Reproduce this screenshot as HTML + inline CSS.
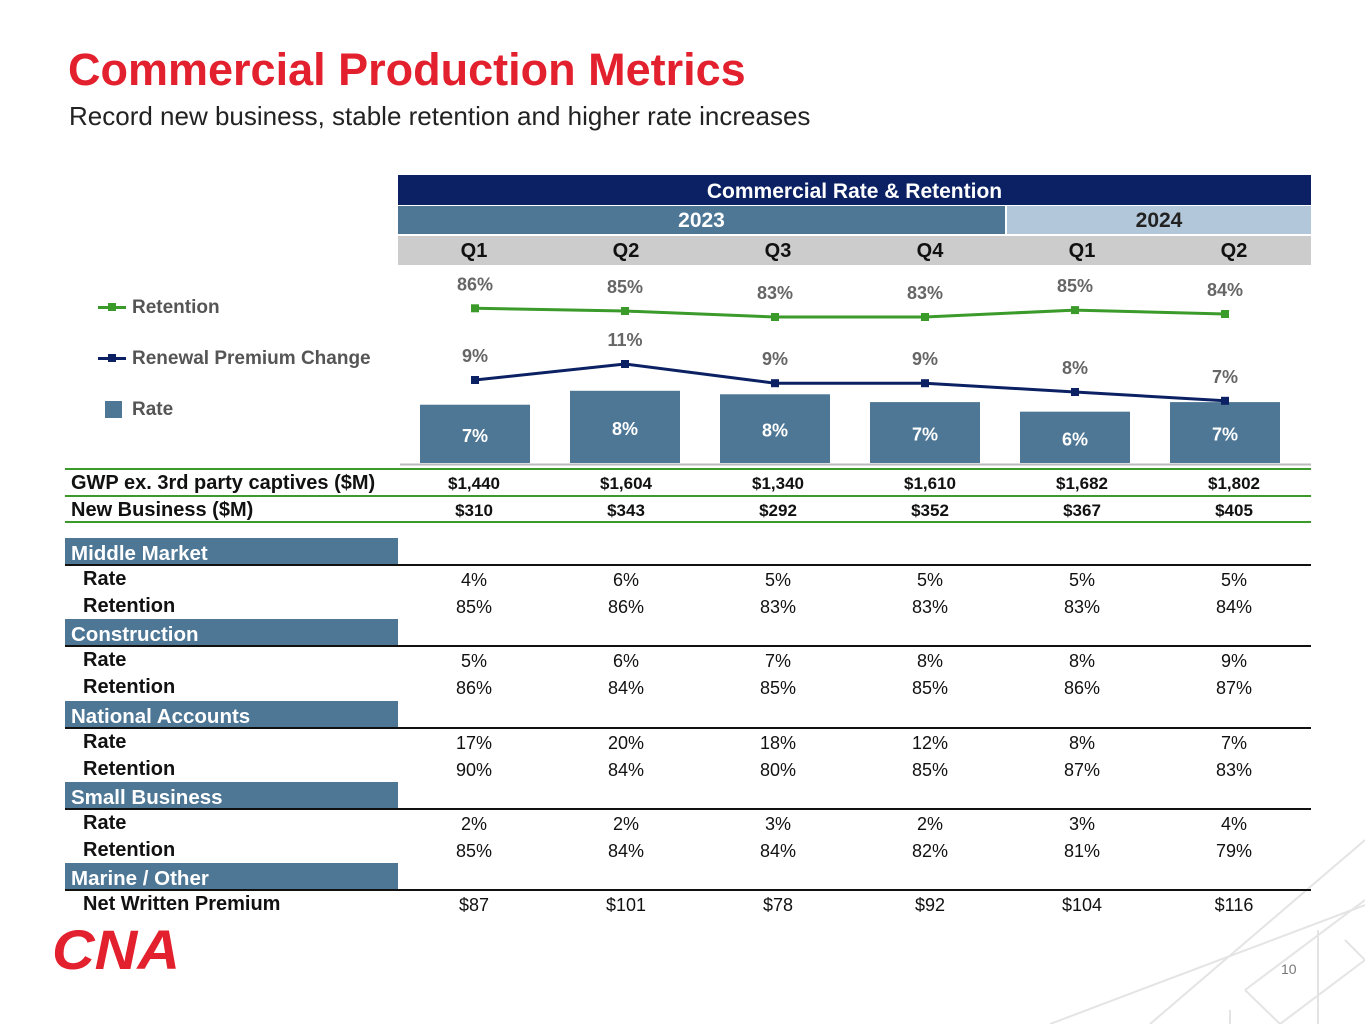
<!DOCTYPE html>
<html><head><meta charset="utf-8"><style>
body{margin:0;width:1365px;height:1024px;background:#fff;font-family:"Liberation Sans",Arial,sans-serif;position:relative;overflow:hidden}
.a{position:absolute}
.c{position:absolute;text-align:center;width:152px}
</style></head><body>
<svg class="a" style="left:0;top:0" width="1365" height="1024">
<g stroke="#e4e4e4" stroke-width="2" fill="none">
<line x1="1365" y1="905" x2="1050" y2="1024"/><line x1="1365" y1="960" x2="1280" y2="1024"/>
<line x1="1245" y1="990" x2="1365" y2="900"/><line x1="1150" y1="1024" x2="1365" y2="840"/>
<line x1="1245" y1="990" x2="1280" y2="1024"/><line x1="1345" y1="940" x2="1365" y2="960"/>
<line x1="1318" y1="930" x2="1318" y2="1024"/><line x1="1230" y1="1024" x2="1230" y2="1010"/>
</g></svg>
<div class="a" style="left:68px;top:44px;font-size:45px;font-weight:bold;color:#e3202d">Commercial Production Metrics</div>
<div class="a" style="left:69px;top:101px;font-size:26px;color:#222">Record new business, stable retention and higher rate increases</div>

<div class="a" style="left:398px;top:175px;width:913px;height:30px;background:#0b2163;color:#fff;font-weight:bold;font-size:21px;text-align:center;line-height:33px">Commercial Rate &amp; Retention</div>
<div class="a" style="left:398px;top:206px;width:607px;height:28px;background:#4e7796;color:#fff;font-weight:bold;font-size:21px;text-align:center;line-height:30px">2023</div>
<div class="a" style="left:1007px;top:206px;width:304px;height:28px;background:#b2c7d9;color:#222;font-weight:bold;font-size:21px;text-align:center;line-height:30px">2024</div>
<div class="a" style="left:398px;top:236px;width:913px;height:29px;background:#cccccc"></div>
<div id="qs"></div>

<svg id="chart" class="a" style="left:0;top:0" width="1365" height="530"></svg>

<div class="a" style="left:98px;top:297px;font-size:19px;font-weight:bold;color:#555"><span style="display:inline-block;width:28px;height:3px;background:#3a9a2a;vertical-align:middle;position:relative;margin-right:6px"><span style="position:absolute;left:10px;top:-3px;width:8px;height:8px;background:#3a9a2a"></span></span>Retention</div>
<div class="a" style="left:98px;top:348px;font-size:19px;font-weight:bold;color:#555"><span style="display:inline-block;width:28px;height:3px;background:#0b2163;vertical-align:middle;position:relative;margin-right:6px"><span style="position:absolute;left:10px;top:-3px;width:8px;height:8px;background:#0b2163"></span></span>Renewal Premium Change</div>
<div class="a" style="left:105px;top:399px;font-size:19px;font-weight:bold;color:#555"><span style="display:inline-block;width:17px;height:17px;background:#4e7796;vertical-align:middle;margin-right:10px"></span>Rate</div>

<div id="tbl"></div>

<svg class="a" style="left:52px;top:925px" width="130" height="45">
<text x="0" y="44" font-family="Liberation Sans" font-weight="bold" font-style="italic" font-size="56" fill="#e3202d" textLength="128" lengthAdjust="spacingAndGlyphs">CNA</text></svg>
<div class="a" style="left:1281px;top:961px;font-size:14px;color:#777">10</div>

<script>
const quarters=["Q1","Q2","Q3","Q4","Q1","Q2"];
const rateVals=[6.7,8.3,7.9,7.0,5.9,7.0];
const rateLabels=["7%","8%","8%","7%","6%","7%"];
const retVals=[85.9,85.0,83.0,83.0,85.3,84.0];
const retLabels=["86%","85%","83%","83%","85%","84%"];
const rpcVals=[9.0,11.0,8.6,8.6,7.5,6.4];
const rpcLabels=["9%","11%","9%","9%","8%","7%"];
const gwp=["$1,440","$1,604","$1,340","$1,610","$1,682","$1,802"];
const newBiz=["$310","$343","$292","$352","$367","$405"];
const segNames=["Middle Market","Construction","National Accounts","Small Business","Marine / Other"];
const segRows=[
 [["Rate",["4%","6%","5%","5%","5%","5%"]],["Retention",["85%","86%","83%","83%","83%","84%"]]],
 [["Rate",["5%","6%","7%","8%","8%","9%"]],["Retention",["86%","84%","85%","85%","86%","87%"]]],
 [["Rate",["17%","20%","18%","12%","8%","7%"]],["Retention",["90%","84%","80%","85%","87%","83%"]]],
 [["Rate",["2%","2%","3%","2%","3%","4%"]],["Retention",["85%","84%","84%","82%","81%","79%"]]],
 [["Net Written Premium",["$87","$101","$78","$92","$104","$116"]]]
];
const NS="http://www.w3.org/2000/svg";
const xC=i=>475+i*150, colC=i=>474+i*152;
const base=463, yRate=v=>base-v*8.7, yRet=v=>566-v*3, yRpc=v=>452-v*8;
const svg=document.getElementById('chart');
function mk(t,a){const e=document.createElementNS(NS,t);for(const k in a)e.setAttribute(k,a[k]);svg.appendChild(e);return e;}
function tx(x,y,s,fill,size,name){const e=mk('text',{x:x,y:y,'text-anchor':'middle','font-size':size||18,'font-weight':'bold',fill:fill,'font-family':'Liberation Sans'});e.textContent=s;

return e;}
const qs=document.getElementById('qs');
quarters.forEach((q,i)=>{const d=document.createElement('div');d.className='c';d.style.left=(colC(i)-76)+'px';d.style.top='240px';d.style.fontSize='20px';d.style.fontWeight='bold';d.style.color='#111';d.textContent=q;

qs.appendChild(d);});
rateVals.forEach((v,i)=>{const r=mk('rect',{x:xC(i)-55,y:yRate(v),width:110,height:base-yRate(v),fill:'#4e7796'});


tx(xC(i),(yRate(v)+base)/2+8,rateLabels[i],'#fff',18,'rate-bar-label');});
mk('line',{x1:400,y1:464.5,x2:1311,y2:464.5,stroke:'#bbb','stroke-width':2});
function series(vals,labels,yf,col,name,lo){
 const p=mk('polyline',{points:vals.map((v,i)=>xC(i)+','+yf(v)).join(' '),fill:'none',stroke:col,'stroke-width':3});
 
 
 vals.forEach((v,i)=>{const m=mk('rect',{x:xC(i)-4,y:yf(v)-4,width:8,height:8,fill:col});
 
 
 tx(xC(i),yf(v)-lo,labels[i],'#666',18,name+'-label');});
}
series(retVals,retLabels,yRet,'#3a9a2a','retention',18);
series(rpcVals,rpcLabels,yRpc,'#0b2163','renewal-premium-change',18);

const T=document.getElementById('tbl');
function div(css,txt,name){const d=document.createElement('div');d.className='a';d.style.cssText=css;if(txt!=null)d.textContent=txt;

T.appendChild(d);return d;}
[468,495,521].forEach(y=>div(`left:65px;top:${y}px;width:1246px;height:2px;background:#3a9a2a`,null,'green-rule'));
function row(y,label,vals,bold,lx,name){
 div(`left:${lx}px;top:${y-1}px;font-size:20px;font-weight:bold;color:#111`,label,name+'-label');
 vals.forEach((v,i)=>div(`left:${colC(i)-76}px;top:${y+1}px;width:152px;text-align:center;font-size:${bold?17:18}px;${bold?'font-weight:bold;':''}color:#111`,v,name+'-value'));
}
row(473,"GWP ex. 3rd party captives ($M)",gwp,true,71,'gwp');
row(500,"New Business ($M)",newBiz,true,71,'new-business');
let y=538;
segNames.forEach((s,k)=>{
 div(`left:65px;top:${y}px;width:333px;height:26px;background:#4e7796;color:#fff;font-weight:bold;font-size:20.5px;line-height:31px;padding-left:6px;box-sizing:border-box;white-space:nowrap`,s,'segment-header');
 div(`left:65px;top:${y+26}px;width:1246px;height:2px;background:#111`,null,'segment-rule');
 segRows[k].forEach((r,j)=>row(y+31+j*27,r[0],r[1],false,83,'segment-row'));
 y+=81.3;
});
</script>
</body></html>
